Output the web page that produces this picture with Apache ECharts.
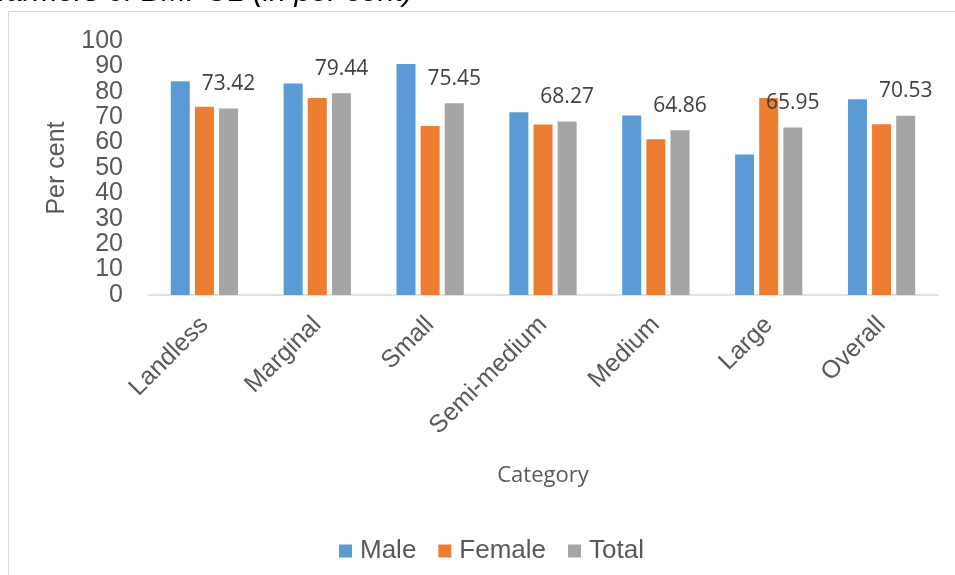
<!DOCTYPE html>
<html>
<head>
<meta charset="utf-8">
<script src="https://cdn.jsdelivr.net/npm/echarts@6/dist/echarts.min.js"></script>
<style>
  html, body { margin: 0; padding: 0; background: #fff; }
  #chart { width: 955px; height: 575px; }
</style>
</head>
<body>
<div id="chart"></div>
<script>
var categories = ['Landless', 'Marginal', 'Small', 'Semi-medium', 'Medium', 'Large', 'Overall'];
var maleData = [84.2, 83.3, 90.9, 71.9, 70.7, 55.3, 77.1];
var femaleData = [74.1, 77.6, 66.5, 67.1, 61.3, 77.6, 67.2];
var totalData = [73.42, 79.44, 75.45, 68.27, 64.86, 65.95, 70.53];
var seriesNames = ['Male', 'Female', 'Total'];
var colorList = ['#5b9bd5', '#ed7d31', '#a5a5a5'];

var chart = echarts.init(document.getElementById('chart'));

var option = {
    animation: false,
    backgroundColor: '#fff',
    graphic: [
        {
            type: 'rect',
            shape: { x: 8.5, y: 11.5, width: 1000, height: 1000 },
            style: { fill: 'none', stroke: '#d9d9d9', lineWidth: 1 },
            silent: true
        },
        {
            type: 'text',
            x: 413,
            y: -7,
            style: {
                text: 'farmers of BMPCL (in per cent)',
                font: 'italic 30px "Liberation Sans", Arial, sans-serif',
                fill: '#000',
                textAlign: 'right',
                textVerticalAlign: 'middle'
            },
            silent: true
        }
    ],
    grid: {
        left: 148,
        right: 17,
        top: 41,
        bottom: 280,
        containLabel: false,
        outerBoundsMode: 'none'
    },
    legend: {
        data: seriesNames,
        top: 533,
        left: 334,
        icon: 'rect',
        itemWidth: 13,
        itemHeight: 13,
        itemGap: 22,
        textStyle: {
            fontFamily: '"Liberation Sans", Arial, sans-serif',
            fontSize: 26,
            color: '#595959',
            padding: [0, 0, 0, 3]
        }
    },
    xAxis: {
        type: 'category',
        data: categories,
        name: 'Category',
        nameLocation: 'middle',
        nameGap: 170,
        nameTextStyle: {
            fontFamily: '"Open Sans", sans-serif',
            fontSize: 22,
            color: '#595959'
        },
        axisLine: { lineStyle: { color: '#d9d9d9', width: 1.5 } },
        axisTick: { show: false },
        axisLabel: {
            interval: 0,
            rotate: 45,
            margin: 26,
            fontFamily: '"Liberation Sans", Arial, sans-serif',
            fontSize: 25,
            color: '#595959'
        }
    },
    yAxis: {
        type: 'value',
        min: 0,
        max: 100,
        interval: 10,
        name: 'Per cent',
        nameLocation: 'middle',
        nameGap: 78,
        nameTextStyle: {
            fontFamily: '"Liberation Sans", Arial, sans-serif',
            fontSize: 25,
            color: '#595959'
        },
        axisLine: { show: false },
        axisTick: { show: false },
        splitLine: { show: false },
        axisLabel: {
            margin: 25,
            fontFamily: '"Liberation Sans", Arial, sans-serif',
            fontSize: 25,
            color: '#595959'
        }
    },
    series: [
        {
            name: seriesNames[0],
            type: 'bar',
            data: maleData,
            barWidth: 19,
            barGap: '27%',
            itemStyle: { color: colorList[0] }
        },
        {
            name: seriesNames[1],
            type: 'bar',
            data: femaleData,
            barWidth: 19,
            barGap: '27%',
            itemStyle: { color: colorList[1] }
        },
        {
            name: seriesNames[2],
            type: 'bar',
            data: totalData,
            barWidth: 19,
            barGap: '27%',
            itemStyle: { color: colorList[2] },
            label: {
                show: true,
                position: 'top',
                distance: 14,
                fontFamily: '"Open Sans", sans-serif',
                fontSize: 21,
                color: '#404040',
                formatter: function (p) {
                    return p.value.toFixed(2);
                }
            }
        }
    ]
};

chart.setOption(option);
window.onresize = chart.resize;
</script>
</body>
</html>
